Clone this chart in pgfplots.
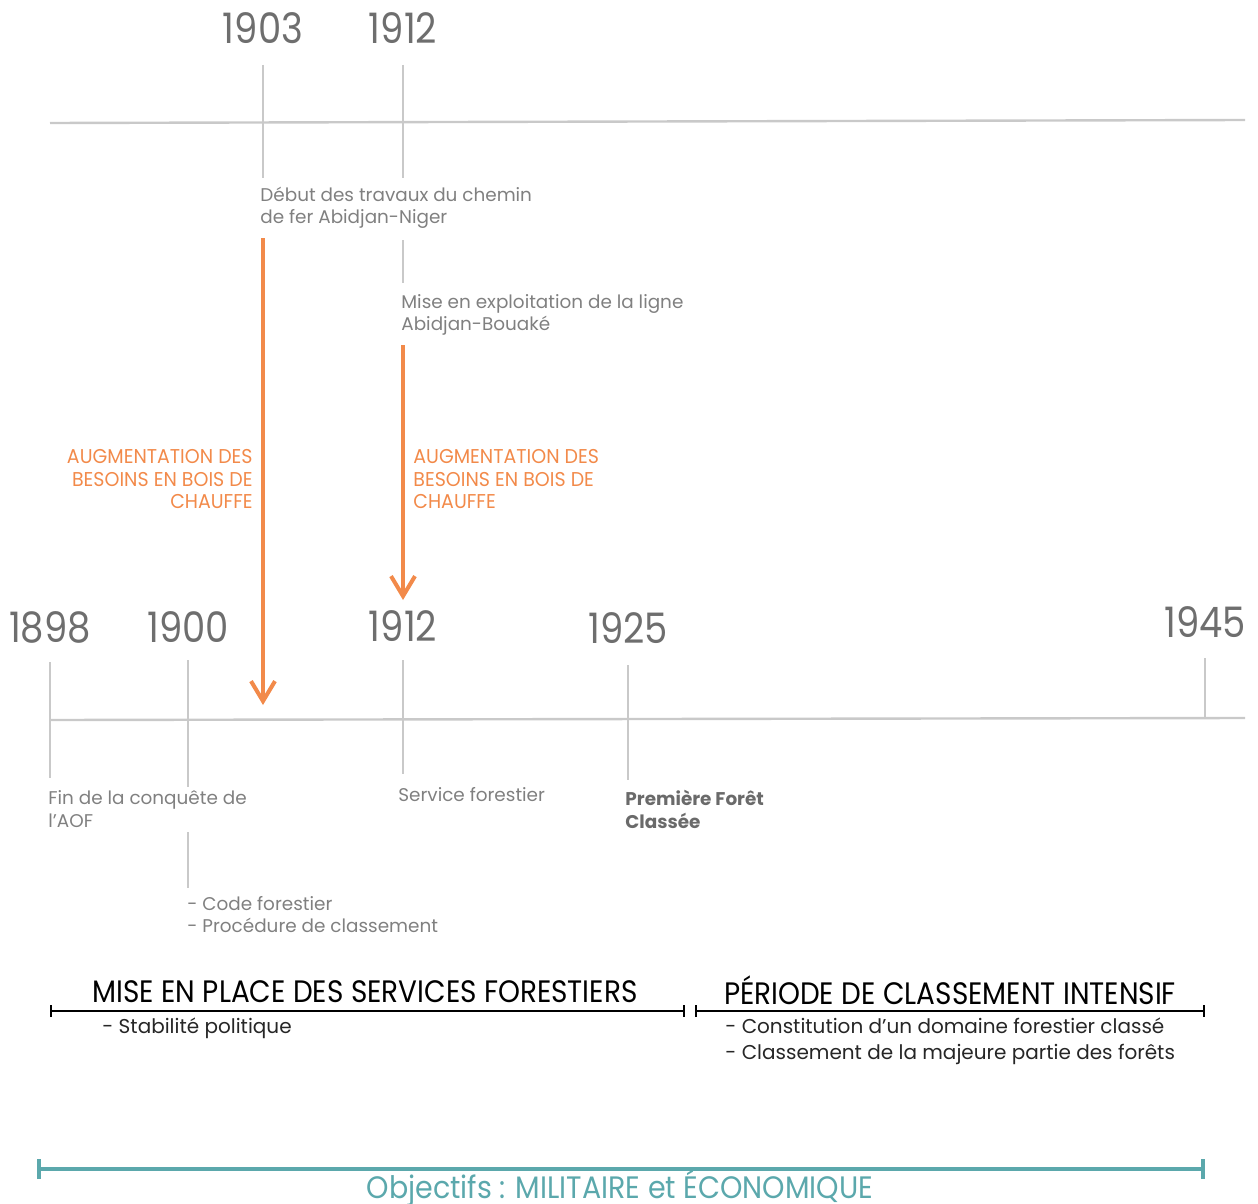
\documentclass[border=0pt]{standalone}
\usepackage{pgfplots}
\pgfplotsset{compat=1.18}
\usetikzlibrary{arrows.meta}
\usepackage{fontspec}
\setmainfont{Poppins}
\newfontfamily\yearfont[FakeStretch=0.88]{Poppins}
\newfontfamily\headfont[FakeStretch=0.90]{Poppins}
\newfontfamily\orgfont[FakeStretch=0.95]{Poppins}
\newfontfamily\objfont[FakeStretch=0.92]{Poppins}
\newfontfamily\bodyfont{Poppins}
\definecolor{gline}{HTML}{C9C9C9}
\definecolor{gtext}{HTML}{808080}
\definecolor{gyear}{HTML}{6E6E6E}
\definecolor{gbold}{HTML}{6A6A6A}
\definecolor{orng}{HTML}{F28A4A}
\definecolor{tealc}{HTML}{5BA8AC}
\begin{document}
\begin{tikzpicture}
\begin{axis}[width=629pt, height=602pt, scale only axis,
  xmin=0, xmax=1258, ymin=0, ymax=1204, y dir=reverse,
  hide axis, clip=false]
% top timeline
\addplot[gline, line width=1.2pt] coordinates {(50,123) (1245,120)};
\addplot[gline, line width=0.8pt] coordinates {(263,65) (263,178)};
\addplot[gline, line width=0.8pt] coordinates {(403,65) (403,178)};
\addplot[gline, line width=0.8pt] coordinates {(403,240) (403,283)};
% orange arrows
\addplot[orng, line width=2pt, -{Straight Barb[length=10pt,width=12pt,line width=2pt]}] coordinates {(263,238) (263,705)};
\addplot[orng, line width=2pt, -{Straight Barb[length=10pt,width=12pt,line width=2pt]}] coordinates {(403,345) (403,600)};
% main timeline
\addplot[gline, line width=1.2pt] coordinates {(50,720) (1245,718)};
\addplot[gline, line width=0.8pt] coordinates {(50,662) (50,778)};
\addplot[gline, line width=0.8pt] coordinates {(188,660) (188,787)};
\addplot[gline, line width=0.8pt] coordinates {(403,660) (403,774)};
\addplot[gline, line width=0.8pt] coordinates {(628,665) (628,780)};
\addplot[gline, line width=0.8pt] coordinates {(1205,658) (1205,718)};
\addplot[gline, line width=0.8pt] coordinates {(188,832) (188,888)};
% brackets
\addplot[black, line width=1pt, {Bar[width=6pt]}-{Bar[width=6pt]}] coordinates {(50,1011) (685,1011)};
\addplot[black, line width=1pt, {Bar[width=6pt]}-{Bar[width=6pt]}] coordinates {(695,1011) (1205,1011)};
\addplot[tealc, line width=2pt, {Bar[width=10pt]}-{Bar[width=10pt]}] coordinates {(37,1169) (1205,1169)};

% years
\tikzset{yr/.style={anchor=base, inner sep=0pt, text=gyear, font=\yearfont\fontsize{21}{21}\selectfont}}
\node[yr] at (axis cs:263,44) {1903};
\node[yr] at (axis cs:403,44) {1912};
\node[yr] at (axis cs:50,642) {1898};
\node[yr] at (axis cs:188,642) {1900};
\node[yr] at (axis cs:403,641) {1912};
\node[yr] at (axis cs:628,643) {1925};
\node[yr] at (axis cs:1205,637) {1945};

% gray body text
\tikzset{bt/.style={anchor=base west, inner sep=0pt, text=gtext, font=\bodyfont\fontsize{9.2}{11}\selectfont}}
\node[bt] at (axis cs:260,201) {Début des travaux du chemin};
\node[bt] at (axis cs:260,223) {de fer Abidjan-Niger};
\node[bt] at (axis cs:401,308) {Mise en exploitation de la ligne};
\node[bt] at (axis cs:401,330) {Abidjan-Bouaké};
\node[bt] at (axis cs:48,804) {Fin de la conquête de};
\node[bt] at (axis cs:48,827) {l’AOF};
\node[bt] at (axis cs:398,801) {Service forestier};
\node[bt] at (axis cs:187,910) {- Code forestier};
\node[bt] at (axis cs:187,932) {- Procédure de classement};
\node[bt, text=gbold, font=\bodyfont\bfseries\fontsize{9.2}{11}\selectfont] at (axis cs:625,805) {Première Forêt};
\node[bt, text=gbold, font=\bodyfont\bfseries\fontsize{9.2}{11}\selectfont] at (axis cs:625,828) {Classée};

% orange text
\tikzset{ot/.style={inner sep=0pt, text=orng, font=\orgfont\fontsize{10}{11}\selectfont}}
\node[ot, anchor=base east] at (axis cs:253,463) {AUGMENTATION DES};
\node[ot, anchor=base east] at (axis cs:253,486) {BESOINS EN BOIS DE};
\node[ot, anchor=base east] at (axis cs:253,508) {CHAUFFE};
\node[ot, anchor=base west] at (axis cs:413,463) {AUGMENTATION DES};
\node[ot, anchor=base west] at (axis cs:413,486) {BESOINS EN BOIS DE};
\node[ot, anchor=base west] at (axis cs:413,508) {CHAUFFE};

% headings
\tikzset{hd/.style={anchor=base, inner sep=0pt, text=black, font=\headfont\fontsize{15.5}{16}\selectfont}}
\node[hd] at (axis cs:365,1002) {MISE EN PLACE DES SERVICES FORESTIERS};
\node[hd] at (axis cs:950,1004) {PÉRIODE DE CLASSEMENT INTENSIF};
\tikzset{bk/.style={anchor=base west, inner sep=0pt, text=black!85, font=\bodyfont\fontsize{10}{11}\selectfont}}
\node[bk] at (axis cs:102,1033) {- Stabilité politique};
\node[bk] at (axis cs:725,1033) {- Constitution d’un domaine forestier classé};
\node[bk] at (axis cs:725,1059) {- Classement de la majeure partie des forêts};
\node[anchor=base, inner sep=0pt, text=tealc, font=\objfont\fontsize{15.5}{16}\selectfont] at (axis cs:620,1198) {Objectifs : MILITAIRE et ÉCONOMIQUE};
\end{axis}
\pgfresetboundingbox
\path[use as bounding box] (current axis.south west) rectangle (current axis.north east);
\end{tikzpicture}
\end{document}
